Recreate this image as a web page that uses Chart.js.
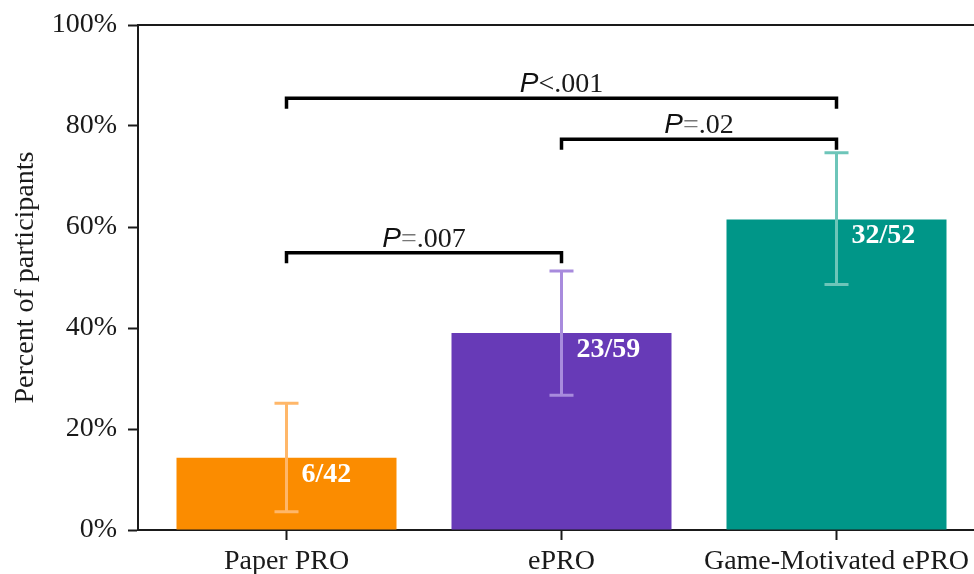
<!DOCTYPE html>
<html>
<head>
<meta charset="utf-8">
<script src="https://cdn.jsdelivr.net/npm/chart.js@4.4.1/dist/chart.umd.min.js"></script>
<style>
  html, body { margin: 0; padding: 0; background: #fff; }
  #wrap { width: 974px; height: 574px; }
</style>
</head>
<body>
<div id="wrap"><canvas id="participation" width="974" height="574"></canvas></div>
<script>
// values
const categories = ['Paper PRO', 'ePRO', 'Game-Motivated ePRO'];
const percents = [14.3, 39.0, 61.5];
const ciLow = [3.6, 26.7, 48.6];
const ciHigh = [25.1, 51.3, 74.7];
const countLabels = ['6/42', '23/59', '32/52'];
const barColors = ['#FB8C00', '#673AB7', '#009688'];
const errorColors = ['#FFB769', '#A88BDD', '#6DC5B9'];

// significance brackets
const bracketFrom = [0, 1, 0];
const bracketTo = [1, 2, 2];
const bracketHeight = [54.9, 77.4, 85.5];
const bracketText = ['=.007', '=.02', '<.001'];

const serif = "'Liberation Serif', 'Times New Roman', serif";
const axisColor = '#1a1a1a';

const annotations = {
    id: 'annotations',
    afterDatasetsDraw(chart) {
        const ctx = chart.ctx;
        const x = chart.scales.x;
        const y = chart.scales.y;
        ctx.save();

        // error bars
        ctx.lineWidth = 3;
        categories.forEach((cat, i) => {
            let cx = x.getPixelForValue(i);
            let top = y.getPixelForValue(ciHigh[i]);
            let bottom = y.getPixelForValue(ciLow[i]);
            ctx.strokeStyle = errorColors[i];
            ctx.beginPath();
            ctx.moveTo(cx, top);
            ctx.lineTo(cx, bottom);
            ctx.moveTo(cx - 12, top);
            ctx.lineTo(cx + 12, top);
            ctx.moveTo(cx - 12, bottom);
            ctx.lineTo(cx + 12, bottom);
            ctx.stroke();
        });

        // n/N labels inside the bars
        ctx.fillStyle = '#fff';
        ctx.font = 'bold 28px ' + serif;
        ctx.textAlign = 'left';
        ctx.textBaseline = 'alphabetic';
        countLabels.forEach((label, i) => {
            ctx.fillText(label, x.getPixelForValue(i) + 15, y.getPixelForValue(percents[i]) + 24);
        });

        // brackets
        ctx.strokeStyle = '#000';
        ctx.lineWidth = 3.5;
        ctx.lineJoin = 'miter';
        bracketText.forEach((txt, i) => {
            let x1 = x.getPixelForValue(bracketFrom[i]);
            let x2 = x.getPixelForValue(bracketTo[i]);
            let yy = y.getPixelForValue(bracketHeight[i]);
            let drop = y.getPixelForValue(bracketHeight[i] - 2.1);
            ctx.beginPath();
            ctx.moveTo(x1, drop);
            ctx.lineTo(x1, yy);
            ctx.lineTo(x2, yy);
            ctx.lineTo(x2, drop);
            ctx.stroke();

            let sign = txt[0];
            let rest = txt.slice(1);
            let pFont = "italic 28px 'Liberation Sans', Arial, sans-serif";
            let tFont = '28px ' + serif;
            ctx.font = pFont;
            let wP = ctx.measureText('P').width;
            ctx.font = tFont;
            let wS = ctx.measureText(sign).width;
            let wR = ctx.measureText(rest).width;
            let start = (x1 + x2) / 2 - (wP + wS + wR) / 2;
            let base = yy - 6;
            ctx.textAlign = 'left';
            ctx.font = pFont;
            ctx.fillStyle = '#111';
            ctx.fillText('P', start, base);
            ctx.font = tFont;
            ctx.fillStyle = sign === '=' ? '#777' : '#1a1a1a';
            ctx.fillText(sign, start + wP, base);
            ctx.fillStyle = '#1a1a1a';
            ctx.fillText(rest, start + wP + wS, base);
        });

        // top spine
        ctx.strokeStyle = axisColor;
        ctx.lineWidth = 2;
        ctx.beginPath();
        ctx.moveTo(chart.chartArea.left, chart.chartArea.top);
        ctx.lineTo(chart.chartArea.right, chart.chartArea.top);
        ctx.stroke();
        ctx.restore();
    }
};

let ctx = document.getElementById('participation').getContext('2d');
let participationChart = new Chart(ctx, {
    type: 'bar',
    data: {
        datasets: [{
            data: percents.map((v, i) => ({ x: i, y: v })),
            backgroundColor: barColors,
            borderWidth: 0,
            barPercentage: 0.8,
            categoryPercentage: 1.0
        }]
    },
    options: {
        responsive: false,
        animation: false,
        layout: { padding: { top: 25, left: 0, right: 0, bottom: 0 } },
        scales: {
            x: {
                type: 'linear',
                min: -0.54,
                max: 2.5,
                offset: false,
                afterBuildTicks: scale => {
                    scale.ticks = categories.map((c, i) => ({ value: i }));
                },
                afterFit: scale => {
                    scale.height = 44;
                    scale.paddingLeft = 0;
                    scale.paddingRight = 0;
                },
                ticks: {
                    autoSkip: false,
                    maxRotation: 0,
                    padding: 5,
                    color: axisColor,
                    font: { family: serif, size: 28 },
                    callback: value => categories[value]
                },
                grid: {
                    offset: false,
                    drawOnChartArea: false,
                    tickLength: 10,
                    tickColor: axisColor,
                    tickWidth: 2
                },
                border: { color: axisColor, width: 2 }
            },
            y: {
                min: 0,
                max: 100,
                afterFit: scale => {
                    scale.width = 138;
                    scale.paddingTop = 0;
                    scale.paddingBottom = 0;
                },
                ticks: {
                    stepSize: 20,
                    padding: 11,
                    color: axisColor,
                    font: { family: serif, size: 28 },
                    callback: value => value + '%'
                },
                grid: {
                    drawOnChartArea: false,
                    tickLength: 10,
                    tickColor: axisColor,
                    tickWidth: 2
                },
                border: { color: axisColor, width: 2 },
                title: {
                    display: true,
                    text: 'Percent of participants',
                    color: axisColor,
                    font: { family: serif, size: 28 },
                    padding: { top: 9, bottom: 0 }
                }
            }
        },
        plugins: {
            legend: { display: false },
            tooltip: { enabled: false }
        }
    },
    plugins: [annotations]
});
</script>
</body>
</html>
